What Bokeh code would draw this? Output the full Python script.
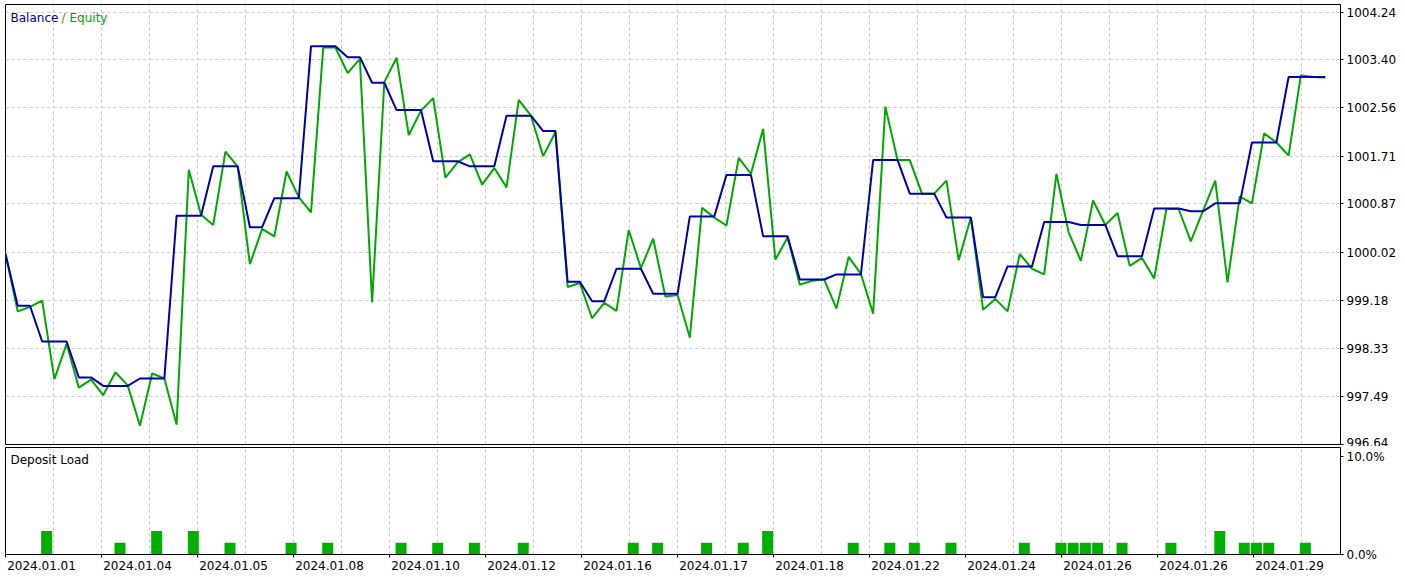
from bokeh.plotting import figure
from bokeh.layouts import column
from bokeh.models import (FixedTicker, Label, Range1d, CustomJSTickFormatter,
                          PrintfTickFormatter, LinearAxis)
from bokeh.embed import file_html
from bokeh.resources import INLINE

# ---------------- data ----------------
balance = [
    999.99, 999.08, 999.08, 998.45, 998.45, 998.45, 997.82, 997.82, 997.67, 997.67,
    997.67, 997.80, 997.80, 997.80, 1000.66, 1000.66, 1000.66, 1001.53, 1001.53, 1001.53,
    1000.46, 1000.46, 1000.97, 1000.97, 1000.97, 1003.64, 1003.64, 1003.64, 1003.45, 1003.45,
    1003.00, 1003.00, 1002.52, 1002.52, 1002.52, 1001.62, 1001.62, 1001.62, 1001.53, 1001.53,
    1001.53, 1002.42, 1002.42, 1002.42, 1002.15, 1002.15, 999.50, 999.50, 999.16, 999.16,
    999.73, 999.73, 999.73, 999.29, 999.29, 999.29, 1000.65, 1000.65, 1000.65, 1001.38,
    1001.38, 1001.38, 1000.30, 1000.30, 1000.30, 999.54, 999.54, 999.54, 999.63, 999.63,
    999.63, 1001.64, 1001.64, 1001.64, 1001.05, 1001.05, 1001.05, 1000.63, 1000.63, 1000.63,
    999.23, 999.23, 999.77, 999.77, 999.77, 1000.55, 1000.55, 1000.55, 1000.50, 1000.50,
    1000.50, 999.95, 999.95, 999.95, 1000.79, 1000.79, 1000.79, 1000.74, 1000.74, 1000.88,
    1000.88, 1000.88, 1001.95, 1001.95, 1001.95, 1003.10, 1003.10, 1003.10, 1003.10,
]

equity = [
    999.99, 998.98, 999.06, 999.17, 997.79, 998.41, 997.64, 997.78, 997.51, 997.91,
    997.68, 996.97, 997.89, 997.80, 996.99, 1001.47, 1000.68, 1000.50, 1001.79, 1001.53,
    999.81, 1000.43, 1000.30, 1001.44, 1000.99, 1000.72, 1003.62, 1003.62, 1003.17, 1003.42,
    999.14, 1003.01, 1003.44, 1002.08, 1002.51, 1002.73, 1001.33, 1001.60, 1001.74, 1001.21,
    1001.50, 1001.16, 1002.70, 1002.42, 1001.71, 1002.13, 999.41, 999.48, 998.86, 999.13,
    998.99, 1000.41, 999.74, 1000.26, 999.24, 999.27, 998.52, 1000.80, 1000.63, 1000.49,
    1001.68, 1001.40, 1002.19, 999.89, 1000.28, 999.45, 999.52, 999.54, 999.03, 999.94,
    999.64, 998.94, 1002.58, 1001.64, 1001.64, 1001.05, 1001.05, 1001.28, 999.88, 1000.63,
    999.01, 999.20, 998.98, 999.99, 999.73, 999.63, 1001.40, 1000.37, 999.87, 1000.93,
    1000.50, 1000.71, 999.78, 999.92, 999.56, 1000.78, 1000.78, 1000.21, 1000.75, 1001.28,
    999.49, 1001.00, 1000.88, 1002.11, 1001.95, 1001.72, 1003.13, 1003.10, 1003.09,
]

load_index = [3, 9, 12, 15, 18, 23, 26, 32, 35, 38, 42, 51, 53, 57, 60, 62, 69, 72, 74,
              77, 83, 86, 87, 88, 89, 91, 95, 99, 101, 102, 103, 106]
load_pct = [2.4, 1.2, 2.4, 2.4, 1.2, 1.2, 1.2, 1.2, 1.2, 1.2, 1.2, 1.2, 1.2, 1.2, 1.2, 2.4,
            1.2, 1.2, 1.2, 1.2, 1.2, 1.2, 1.2, 1.2, 1.2, 1.2, 1.2, 2.4, 1.2, 1.2, 1.2, 1.2]

y_tick_labels = ["996.64", "997.49", "998.33", "999.18", "1000.02", "1000.87",
                 "1001.71", "1002.56", "1003.40", "1004.24"]
load_ticks = [0, 10]
x_tick_labels = ["2024.01.01", "2024.01.04", "2024.01.05", "2024.01.08", "2024.01.10",
                 "2024.01.12", "2024.01.16", "2024.01.17", "2024.01.18", "2024.01.22",
                 "2024.01.24", "2024.01.26", "2024.01.26", "2024.01.29"]

# ---------------- style / layout ----------------
FONT = "DejaVu Sans"
FS = "12px"
TXT = "#000000"
BLUE = "#0000B0"
GREEN = "#00A800"
BAR = "#00B000"
SLASH = "#B05A00"
GRID = "#C8C8C8"

PX_PER_POINT = 12.22
FRAME_W = 1335
x_end = FRAME_W / PX_PER_POINT
grid_step = 48 / PX_PER_POINT
label_step = 2 * grid_step
grid_ticks = [k * grid_step for k in range(1, 28)]
x_ticks = [k * label_step for k in range(len(x_tick_labels))]
# date labels are drawn left-aligned at their tick: shift their (centred) anchor
label_shift = 36.0 / PX_PER_POINT

xs = list(range(len(balance)))
y_ticks = [float(t) for t in y_tick_labels]
y_lo = y_ticks[0]
y_hi = y_ticks[-1] + (y_ticks[-1] - y_ticks[0]) / 432.0 * 7.7


def style_common(p):
    p.outline_line_color = "black"
    p.outline_line_width = 1
    p.background_fill_color = "white"
    p.border_fill_color = "white"
    p.xgrid.ticker = FixedTicker(ticks=grid_ticks)
    p.xgrid.grid_line_color = GRID
    p.xgrid.grid_line_dash = "3 3"
    p.xgrid.grid_line_width = 1
    for ax in p.yaxis:
        ax.axis_line_color = "black"
        ax.major_tick_line_color = "black"
        ax.major_tick_out = 3
        ax.major_tick_in = 0
        ax.minor_tick_out = 0
        ax.minor_tick_in = 0
        ax.major_label_text_font = FONT
        ax.major_label_text_font_size = FS
        ax.major_label_text_color = TXT
        ax.major_label_standoff = 3


# ---------------- top panel: Balance / Equity ----------------
p1 = figure(width=1405, height=446, x_range=Range1d(0, x_end), y_range=Range1d(y_lo, y_hi),
            x_axis_location=None, y_axis_location="right", toolbar_location=None,
            output_backend="svg", min_border_left=5, min_border_right=65,
            min_border_top=4, min_border_bottom=2)
style_common(p1)
p1.ygrid.ticker = FixedTicker(ticks=y_ticks)
p1.ygrid.grid_line_color = GRID
p1.ygrid.grid_line_dash = "3 3"
p1.yaxis.ticker = FixedTicker(ticks=y_ticks)
p1.yaxis.formatter = PrintfTickFormatter(format="%.2f")

p1.line(xs, equity, line_color=GREEN, line_width=2)
p1.line(xs, balance, line_color=BLUE, line_width=2)

for txt, col, off in [("Balance", BLUE, 5), ("/", SLASH, 56), ("Equity", GREEN, 64)]:
    p1.add_layout(Label(x=0, y=y_hi, x_offset=off, y_offset=-13, text=txt, text_color=col,
                        text_font=FONT, text_font_size=FS, text_baseline="middle",
                        text_align="left"))

# ---------------- bottom panel: Deposit Load ----------------
p2 = figure(width=1405, height=131, x_range=p1.x_range, y_range=Range1d(0, 10.93),
            y_axis_location="right", toolbar_location=None, output_backend="svg",
            min_border_left=5, min_border_right=65, min_border_top=1, min_border_bottom=23)
style_common(p2)
p2.ygrid.visible = False
p2.yaxis.ticker = FixedTicker(ticks=load_ticks)
p2.yaxis.formatter = PrintfTickFormatter(format="%.1f%%")

# axis carrying only the tick marks
xa = p2.xaxis[0]
xa.ticker = FixedTicker(ticks=x_ticks)
xa.formatter = CustomJSTickFormatter(code="return '';")
xa.axis_line_color = "black"
xa.major_tick_line_color = "black"
xa.major_tick_out = 3
xa.major_tick_in = 0
xa.minor_tick_out = 0
xa.minor_tick_in = 0
xa.major_label_standoff = 0
xa.major_label_text_font_size = "1px"

# axis carrying the date labels
lab_axis = LinearAxis(
    ticker=FixedTicker(ticks=[t + label_shift for t in x_ticks]),
    formatter=CustomJSTickFormatter(
        args=dict(labels=x_tick_labels, step=label_step, off=label_shift),
        code="const k = Math.round((tick - off) / step); return (k >= 0 && k < labels.length) ? labels[k] : '';"),
    axis_line_color=None, major_tick_line_color=None, minor_tick_line_color=None,
    major_tick_out=0, major_tick_in=0, minor_tick_out=0, minor_tick_in=0,
    major_label_standoff=3, major_label_text_font=FONT, major_label_text_font_size=FS,
    major_label_text_color=TXT)
p2.add_layout(lab_axis, "below")

p2.vbar(x=[i + 0.37 for i in load_index], width=0.9, top=load_pct, bottom=0,
        fill_color=BAR, line_color=None)

p2.add_layout(Label(x=0, y=10.93, x_offset=5, y_offset=-12, text="Deposit Load",
                    text_color=TXT, text_font=FONT, text_font_size=FS,
                    text_baseline="middle", text_align="left"))

layout = column(p1, p2, spacing=0)

open("out.html", "w").write(file_html(layout, INLINE))
